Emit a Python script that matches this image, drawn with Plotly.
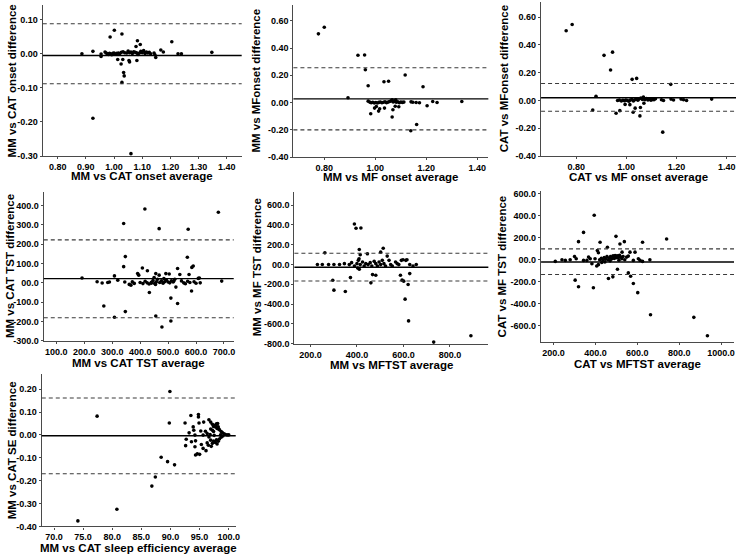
import plotly.graph_objects as go

# ---------------- data ----------------
mm_cat_onset = [
    (0.886, 0.000), (0.925, 0.007), (0.954, -0.001), (0.954, -0.008), (0.968, 0.005), (0.972, 0.002),
    (0.976, 0.000), (0.980, -0.002), (0.984, 0.001), (0.988, 0.000), (0.992, -0.003), (0.996, 0.001),
    (1.000, 0.002), (1.004, -0.001), (1.010, 0.001), (1.016, 0.002), (1.020, 0.000), (1.026, 0.004),
    (1.032, 0.006), (1.038, 0.003), (0.986, 0.049), (1.001, 0.069), (1.028, 0.058), (1.013, -0.017),
    (1.025, -0.030), (1.031, -0.017), (1.034, -0.055), (1.036, -0.065), (1.028, -0.084), (0.925, -0.189),
    (1.060, -0.293), (1.045, 0.002), (1.050, 0.008), (1.055, 0.003), (1.060, 0.005), (1.065, 0.001),
    (1.070, 0.006), (1.075, 0.004), (1.080, 0.003), (1.085, -0.002), (1.053, -0.020), (1.055, -0.024),
    (1.083, 0.038), (1.093, 0.027), (1.078, 0.021), (1.081, -0.020), (1.090, 0.002), (1.095, 0.007),
    (1.100, 0.003), (1.105, 0.009), (1.110, 0.001), (1.115, 0.005), (1.120, 0.002), (1.125, 0.004),
    (1.130, 0.000), (1.142, 0.002), (1.145, -0.003), (1.148, -0.011), (1.166, 0.011), (1.175, 0.005),
    (1.205, 0.035), (1.227, 0.000), (1.239, 0.000), (1.347, 0.004),
]
mm_mf_onset = [
    (0.777, 0.504), (0.800, 0.552), (0.932, 0.347), (0.958, 0.349), (0.961, 0.241), (0.972, 0.123),
    (0.893, 0.035), (1.034, 0.152), (1.052, 0.156), (1.117, 0.202), (1.187, 0.116), (1.339, 0.007),
    (1.225, 0.007), (1.242, 0.000), (1.203, -0.024), (1.147, 0.002), (1.160, 0.000), (1.173, -0.002),
    (1.140, 0.005), (0.972, 0.010), (0.978, 0.003), (0.984, -0.002), (0.990, 0.002), (0.996, -0.004),
    (1.002, 0.000), (1.008, -0.003), (1.014, 0.001), (1.020, 0.004), (1.026, -0.002), (1.032, 0.002),
    (1.038, 0.006), (1.044, -0.001), (1.050, 0.003), (1.056, 0.008), (1.062, 0.012), (1.066, 0.020),
    (1.070, 0.004), (1.076, 0.010), (1.082, 0.002), (1.088, 0.006), (1.094, -0.002), (1.100, 0.004),
    (1.106, 0.001), (1.112, 0.003), (1.080, 0.020), (1.004, -0.029), (1.017, -0.046), (0.997, -0.041),
    (0.982, -0.082), (1.036, -0.041), (1.069, -0.053), (1.066, -0.106), (1.078, -0.027), (1.092, -0.031),
    (1.162, -0.161), (1.139, -0.207), (1.013, -0.063),
]
cat_mf_onset = [
    (0.760, 0.502), (0.784, 0.547), (0.911, 0.325), (0.945, 0.348), (0.937, 0.220), (1.023, 0.152),
    (1.041, 0.159), (1.177, 0.116), (0.879, 0.031), (0.866, -0.069), (0.959, -0.092), (0.974, -0.073),
    (1.027, -0.085), (1.035, -0.055), (1.054, -0.111), (1.056, -0.050), (1.145, -0.228), (1.014, -0.030),
    (0.995, -0.028), (1.070, -0.020), (0.965, 0.000), (0.972, 0.003), (0.980, -0.004), (0.986, 0.002),
    (0.992, -0.002), (0.998, 0.004), (1.004, 0.000), (1.010, -0.006), (1.016, 0.003), (1.022, 0.007),
    (1.028, -0.003), (1.034, 0.005), (1.040, 0.010), (1.046, 0.002), (1.052, 0.012), (1.058, 0.018),
    (1.064, 0.008), (1.068, 0.025), (1.074, 0.006), (1.080, 0.014), (1.086, 0.004), (1.092, 0.010),
    (1.098, 0.002), (1.104, 0.008), (1.110, 0.005), (1.116, 0.012), (1.140, 0.005), (1.148, 0.000),
    (1.178, 0.010), (1.188, 0.004), (1.218, 0.010), (1.228, 0.005), (1.240, 0.000), (1.340, 0.010),
]
mm_cat_tst = [
    (192, 25), (246, 6), (264, -1), (270, -120), (284, 2), (290, 4), (308, 36), (308, -178), (320, 14),
    (347, -149), (345, 4), (361, -8), (367, -12), (372, 5), (379, -3), (341, 84), (347, 136), (341, 308),
    (417, 383), (468, 281), (572, 278), (680, 366), (692, 9), (408, 77), (426, 63), (391, 48), (395, 40),
    (433, -50), (450, 28), (456, 48), (468, 40), (492, 48), (504, 46), (510, -79), (528, -22), (534, -107),
    (534, 74), (542, 43), (569, 133), (575, 43), (585, 80), (590, 87), (584, -42), (593, 6), (608, 23),
    (456, -172), (478, -229), (510, -198), (400, 2), (410, -4), (418, 8), (425, 0), (432, -6), (440, 3),
    (446, 12), (452, -3), (458, 5), (462, 18), (470, 2), (476, 10), (482, -2), (488, 6), (494, 14),
    (500, 4), (506, 0), (512, 10), (518, 5), (524, 18), (548, 10), (556, 0), (562, -5), (570, 8),
    (578, 2), (600, -2), (612, 25), (615, 0), (440, -2), (455, -8), (485, 22), (520, 8),
]
mm_mf_tst = [
    (230, 0), (251, 0), (278, 0), (301, 0), (262, 118), (296, -159), (301, -259), (350, -272), (372, -132),
    (389, 410), (396, 366), (417, 369), (410, 152), (414, 99), (409, 59), (445, 109), (467, -102),
    (481, -108), (460, -185), (513, 165), (502, 125), (530, 85), (566, 25), (587, -108), (594, -158),
    (601, -168), (607, -350), (620, -202), (627, -92), (610, 42), (615, 48), (627, 0), (641, -15),
    (655, 0), (622, -570), (730, -784), (890, -720), (325, 0), (346, 9), (367, -1), (377, 19),
    (389, -15), (400, 9), (406, 42), (414, -1), (424, 25), (431, -15), (438, 9), (448, -1), (457, 19),
    (464, -15), (474, 32), (481, 9), (488, -15), (495, 25), (502, -1), (509, 42), (516, 9), (523, -15),
    (538, 42), (545, -1), (552, -15), (573, 9), (580, -1), (591, 42), (598, 48), (403, -35), (410, -48),
]
cat_mf_tst = [
    (208, -15), (240, 0), (256, -6), (279, 0), (300, 30), (308, 9), (303, -186), (319, -246), (319, 165),
    (343, 249), (343, -6), (359, -6), (375, 9), (367, 24), (383, -36), (394, 405), (390, -255), (398, 9),
    (406, -57), (414, -45), (409, 84), (414, 63), (422, 159), (457, 114), (462, -171), (483, -156),
    (486, 24), (494, 39), (502, 18), (498, 213), (505, -87), (517, 144), (527, 69), (538, 165), (549, 24),
    (557, 33), (557, -120), (568, -150), (581, -216), (565, 69), (589, 69), (581, -6), (602, -300),
    (605, 9), (613, -6), (625, 159), (625, -15), (660, 0), (663, -501), (740, 189), (870, -525),
    (935, -693), (420, 0), (428, 12), (435, -3), (442, 20), (448, 5), (455, 28), (460, 0), (466, 15),
    (472, 30), (478, 8), (484, 35), (490, 12), (496, 28), (504, 35), (510, 20), (515, 40), (520, 25),
    (526, 10), (532, 30), (540, 0), (430, -25), (445, -20), (470, -10), (512, -5),
]
mm_cat_se = [
    (74.1, -0.376), (77.4, 0.082), (80.8, -0.325), (86.8, -0.224), (87.4, -0.184), (88.4, -0.098),
    (89.5, -0.117), (89.9, 0.190), (89.8, 0.052), (90.7, -0.131), (92.5, 0.052), (92.6, -0.047),
    (92.7, -0.019), (93.2, 0.009), (93.5, 0.085), (93.9, 0.035), (94.0, 0.020), (94.2, -0.001),
    (94.3, -0.026), (94.3, -0.088), (94.6, -0.083), (94.2, -0.052), (94.8, 0.089), (94.8, 0.078),
    (94.9, 0.052), (95.2, 0.017), (95.6, -0.001), (95.3, -0.042), (95.6, -0.059), (95.7, 0.056),
    (96.0, 0.016), (96.3, 0.006), (96.1, -0.069), (96.3, -0.035), (96.6, 0.066), (96.9, 0.056),
    (97.2, 0.046), (97.4, 0.037), (97.7, 0.035), (96.9, 0.026), (97.2, 0.020), (97.4, 0.015),
    (96.6, -0.009), (96.9, -0.023), (97.2, -0.037), (97.4, -0.027), (97.7, -0.033), (97.9, 0.048),
    (98.2, 0.035), (98.4, 0.022), (98.7, 0.015), (98.9, 0.010), (99.2, 0.005), (99.4, 0.002),
    (97.9, -0.022), (98.2, -0.028), (98.4, -0.018), (98.7, -0.010), (99.0, -0.005), (98.0, 0.028),
    (98.3, 0.025), (97.6, 0.042), (97.8, 0.040), (98.1, 0.050), (96.8, 0.002), (97.5, -0.002),
    (98.6, 0.000), (99.7, 0.000), (100.0, 0.000), (97.0, -0.050), (96.5, -0.045), (98.0, -0.040),
    (93.6, -0.030), (95.0, -0.085),
]

# bias and limits of agreement: (mean, upper, lower)
mm_cat_onset_lines = (-0.005, 0.088, -0.088)
mm_mf_onset_lines = (0.027, 0.255, -0.201)
cat_mf_onset_lines = (0.020, 0.122, -0.078)
mm_cat_tst_lines = (22, 223, -181)
mm_mf_tst_lines = (-27, 114, -166)
cat_mf_tst_lines = (-21, 99, -135)
mm_cat_se_lines = (-0.004, 0.161, -0.170)

# tick values / labels
onset1_yticks = [0.10, 0.00, -0.10, -0.20, -0.30]
onset1_ylabels = ["0.10", "0.00", "-0.10", "-0.20", "-0.30"]
onset1_xticks = [0.80, 0.90, 1.00, 1.10, 1.20, 1.30, 1.40]
onset1_xlabels = ["0.80", "0.90", "1.00", "1.10", "1.20", "1.30", "1.40"]
onset2_yticks = [0.60, 0.40, 0.20, 0.00, -0.20, -0.40]
onset2_ylabels = ["0.60", "0.40", "0.20", "0.00", "-0.20", "-0.40"]
onset2_xticks = [0.80, 1.00, 1.20, 1.40]
onset2_xlabels = ["0.80", "1.00", "1.20", "1.40"]
tst1_yticks = [400, 300, 200, 100, 0, -100, -200, -300]
tst1_ylabels = ["400.0", "300.0", "200.0", "100.0", "00.0", "-100.0", "-200.0", "-300.0"]
tst1_xticks = [100, 200, 300, 400, 500, 600, 700]
tst1_xlabels = ["100.0", "200.0", "300.0", "400.0", "500.0", "600.0", "700.0"]
tst2_yticks = [600, 400, 200, 0, -200, -400, -600, -800]
tst2_ylabels = ["600.0", "400.0", "200.0", "00.0", "-200.0", "-400.0", "-600.0", "-800.0"]
tst2_xticks = [200, 400, 600, 800]
tst2_xlabels = ["200.0", "400.0", "600.0", "800.0"]
tst3_yticks = [600, 400, 200, 0, -200, -400, -600]
tst3_ylabels = ["600.0", "400.0", "200.0", "00.0", "-200.0", "-400.0", "-600.0"]
tst3_xticks = [200, 400, 600, 800, 1000]
tst3_xlabels = ["200.0", "400.0", "600.0", "800.0", "1000.0"]
se_yticks = [0.20, 0.10, 0.00, -0.10, -0.20, -0.30, -0.40]
se_ylabels = ["0.20", "0.10", "0.00", "-0.10", "-0.20", "-0.30", "-0.40"]
se_xticks = [70, 75, 80, 85, 90, 95, 100]
se_xlabels = ["70.0", "75.0", "80.0", "85.0", "90.0", "95.0", "100.0"]

# ---------------- layout config ----------------
W, H = 740, 560
panels = [
    dict(pts=mm_cat_onset, lines=mm_cat_onset_lines, box=(43, 243, 3, 156),
         xr=(0.747, 1.453), yr=(-0.30, 0.143),
         xt=(onset1_xticks, onset1_xlabels), yt=(onset1_yticks, onset1_ylabels),
         xtitle="MM vs CAT onset average", ytitle="MM vs CAT onset difference",
         ytx=12, xty=176),
    dict(pts=mm_mf_onset, lines=mm_mf_onset_lines, box=(295, 491, 3, 157),
         xr=(0.679, 1.443), yr=(-0.40, 0.716),
         xt=(onset2_xticks, onset2_xlabels), yt=(onset2_yticks, onset2_ylabels),
         xtitle="MM vs MF onset average", ytitle="MM vs MFonset difference",
         ytx=257, xty=177),
    dict(pts=cat_mf_onset, lines=cat_mf_onset_lines, box=(544, 740, 0, 156),
         xr=(0.660, 1.437), yr=(-0.40, 0.709),
         xt=(onset2_xticks, onset2_xlabels), yt=(onset2_yticks, onset2_ylabels),
         xtitle="CAT vs MF onset average", ytitle="CAT vs MFonset difference",
         ytx=507, xty=177),
    dict(pts=mm_cat_tst, lines=mm_cat_tst_lines, box=(44, 235, 192, 343),
         xr=(55, 735), yr=(-300, 473),
         xt=(tst1_xticks, tst1_xlabels), yt=(tst1_yticks, tst1_ylabels),
         xtitle="MM vs CAT TST average", ytitle="MM vs CAT TST difference",
         ytx=10, xty=366),
    dict(pts=mm_mf_tst, lines=mm_mf_tst_lines, box=(296, 491, 192, 346),
         xr=(131, 965), yr=(-800, 737),
         xt=(tst2_xticks, tst2_xlabels), yt=(tst2_yticks, tst2_ylabels),
         xtitle="MM vs MFTST average", ytitle="MM vs MF TST difference",
         ytx=258, xty=368),
    dict(pts=cat_mf_tst, lines=cat_mf_tst_lines, box=(544, 738, 191, 344),
         xr=(140, 1062), yr=(-747, 630),
         xt=(tst3_xticks, tst3_xlabels), yt=(tst3_yticks, tst3_ylabels),
         xtitle="CAT vs MFTST average", ytitle="CAT vs MF TST difference",
         ytx=505, xty=367),
    dict(pts=mm_cat_se, lines=mm_cat_se_lines, box=(42, 237, 377, 531),
         xr=(67.9, 101.2), yr=(-0.40, 0.265),
         xt=(se_xticks, se_xlabels), yt=(se_yticks, se_ylabels),
         xtitle="MM vs CAT sleep efficiency average", ytitle="MM vs CAT SE difference",
         ytx=12, xty=553),
]

FONT = "Liberation Sans, Arial, sans-serif"
AXC = "#4a4a4a"

fig = go.Figure()
layout = dict(
    width=W, height=H, margin=dict(l=0, r=0, t=0, b=0),
    paper_bgcolor="white", plot_bgcolor="white", showlegend=False,
    font=dict(family=FONT, color="black"),
    shapes=[], annotations=[],
)

for i, p in enumerate(panels, start=1):
    sfx = "" if i == 1 else str(i)
    xa, ya = "x" + sfx, "y" + sfx
    x0, x1, top, bot = p["box"]
    xs = [a for a, b in p["pts"]]
    ys = [b for a, b in p["pts"]]
    fig.add_trace(go.Scatter(
        x=xs, y=ys, mode="markers", xaxis=xa, yaxis=ya, cliponaxis=False,
        marker=dict(color="black", size=3.6), hoverinfo="x+y"))
    common = dict(showgrid=False, zeroline=False, showline=True, linecolor=AXC,
                  linewidth=1.3, ticks="outside", ticklen=2, tickcolor=AXC, tickwidth=1,
                  tickfont=dict(family=FONT, size=9, color="black", weight="bold"),
                  mirror=False, tickmode="array")
    layout["xaxis" + sfx] = dict(
        common, domain=[x0 / W, x1 / W], range=list(p["xr"]), anchor=ya,
        tickvals=p["xt"][0], ticktext=p["xt"][1])
    layout["yaxis" + sfx] = dict(
        common, domain=[1 - bot / H, 1 - top / H], range=list(p["yr"]), anchor=xa,
        tickvals=p["yt"][0], ticktext=p["yt"][1])
    mean, up, lo = p["lines"]
    layout["shapes"].append(dict(type="line", xref=xa + " domain", yref=ya,
                                 x0=0, x1=1, y0=mean, y1=mean,
                                 line=dict(color="black", width=1.4)))
    for v in (up, lo):
        layout["shapes"].append(dict(type="line", xref=xa + " domain", yref=ya,
                                     x0=0, x1=1, y0=v, y1=v,
                                     line=dict(color="#3a3a3a", width=1.1, dash="4px,3px")))
    layout["annotations"].append(dict(
        text=p["xtitle"], xref="paper", yref="paper",
        x=(x0 + x1) / 2 / W, y=1 - p["xty"] / H, xanchor="center", yanchor="middle",
        showarrow=False, font=dict(family=FONT, size=11.5, color="black", weight="bold")))
    layout["annotations"].append(dict(
        text=p["ytitle"], xref="paper", yref="paper", textangle=-90,
        x=p["ytx"] / W, y=1 - (top + bot) / 2 / H, xanchor="center", yanchor="middle",
        showarrow=False, font=dict(family=FONT, size=11.5, color="black", weight="bold")))

fig.update_layout(**layout)
fig.write_html("out.html", config={"displayModeBar": False},
               post_script="document.body.style.margin='0px';document.body.style.overflow='hidden';")
